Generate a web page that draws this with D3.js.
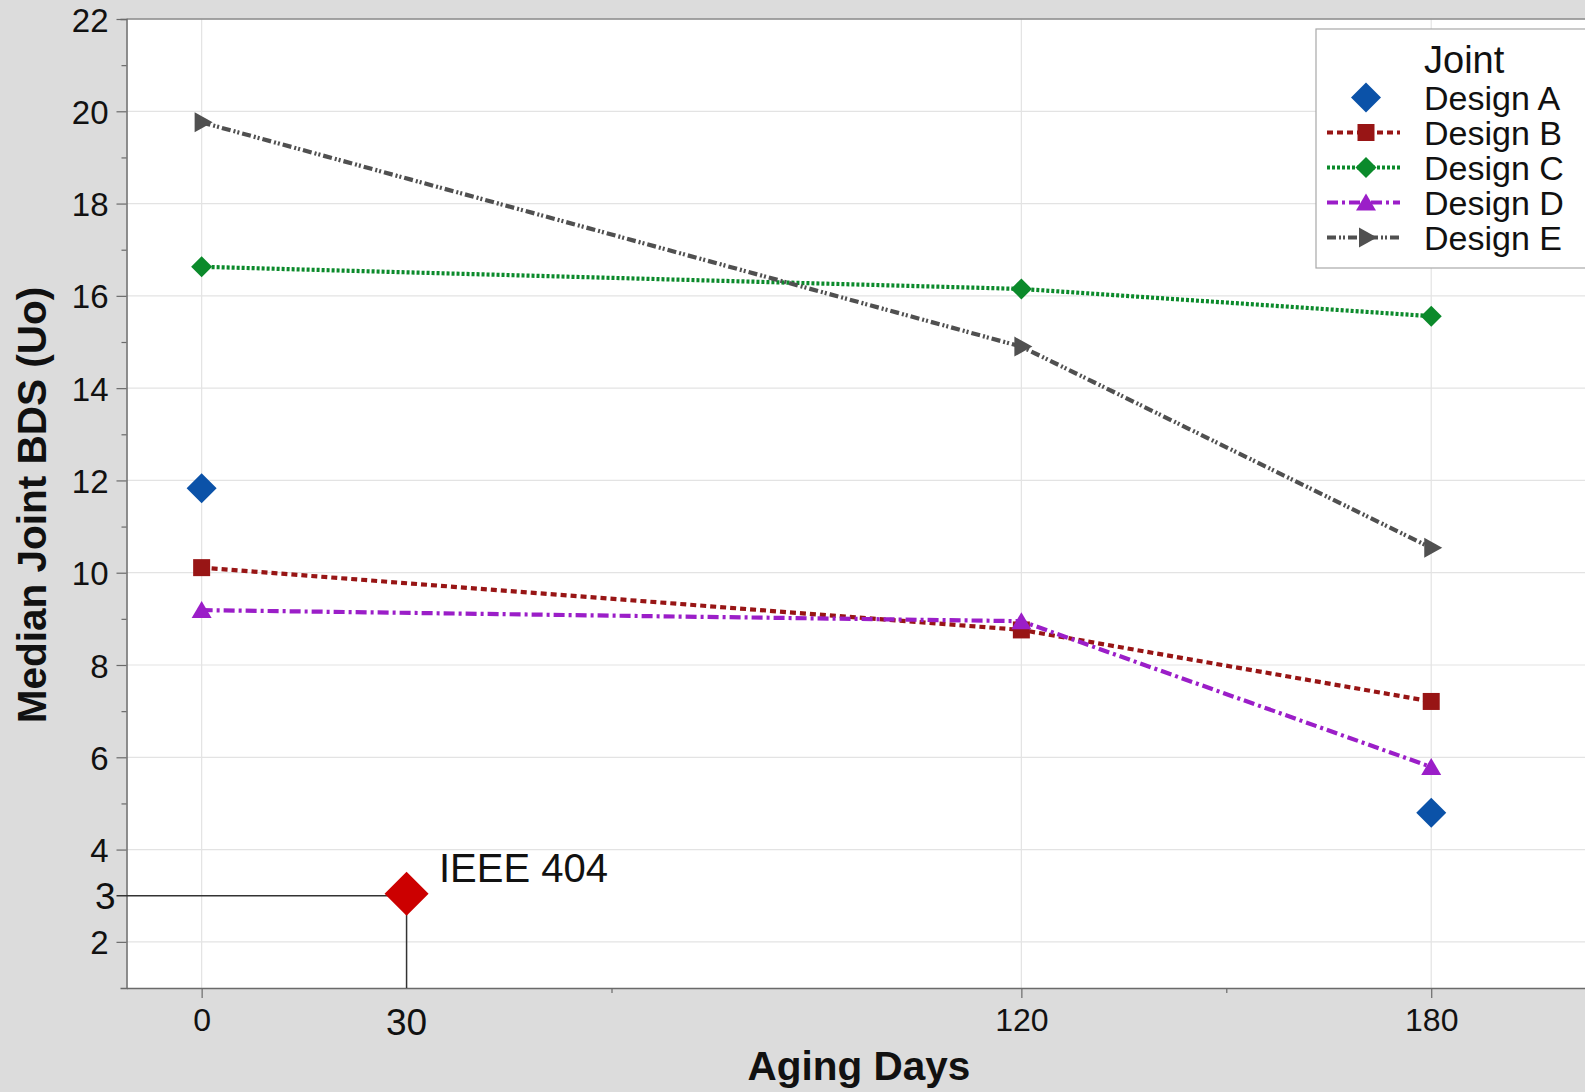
<!DOCTYPE html>
<html>
<head>
<meta charset="utf-8">
<script src="https://cdn.jsdelivr.net/npm/d3@7"></script>
<style>
  html, body { margin: 0; padding: 0; background: #dcdcdc; }
  svg { display: block; }
  text { font-family: "Liberation Sans", Arial, Helvetica, sans-serif; fill: #111; }
</style>
</head>
<body>
<svg id="chart" width="1585" height="1092"></svg>
<script>
// ---------- data ----------
const days = [0, 120, 180];
const designA = [11.83, null, 4.80];
const designB = [10.11, 8.76, 7.21];
const designC = [16.63, 16.15, 15.56];
const designD = [9.19, 8.95, 5.79];
const designE = [19.76, 14.90, 10.54];
const seriesNames = ["Design A", "Design B", "Design C", "Design D", "Design E"];
const yTickValues = [2, 4, 6, 8, 10, 12, 14, 16, 18, 20, 22];
const yMinorTicks = [5, 7, 9, 11, 13, 15, 17, 19, 21];
const xTickValues = [0, 120, 180];
const xMinorTicks = [60, 150];
const ieeeDay = 30;
const ieeeValue = 3;
const ieeeLabel = "IEEE 404";
const legendTitle = "Joint";
const xTitle = "Aging Days";
const yTitle = "Median Joint BDS (Uo)";

// ---------- styles ----------
const styles = {
  "Design A": { color: "#0b52a8", dash: null, shape: "diamond", size: 15 },
  "Design B": { color: "#981515", dash: "6,4", shape: "square", size: 17 },
  "Design C": { color: "#0b8a2b", dash: "3,2", shape: "diamond", size: 10.5 },
  "Design D": { color: "#9b1ec8", dash: "11,4,3,4", shape: "triUp", size: 20 },
  "Design E": { color: "#505050", dash: "9,3,2,2,2,3", shape: "triRight", size: 20 }
};
const seriesValues = [designA, designB, designC, designD, designE];
const LW = 4.2;

const svg = d3.select("#chart");
const W = 1585, H = 1092;
const plotLeft = 126.5, plotTop = 19, plotBottom = 988, plotRight = 1602;

const x = d3.scaleLinear().domain([-11, 205]).range([plotLeft, plotRight]);
const y = d3.scaleLinear().domain([1, 22]).range([plotBottom, plotTop]);

svg.append("rect").attr("width", W).attr("height", H).attr("fill", "#dcdcdc");
svg.append("rect").attr("x", plotLeft).attr("y", plotTop)
  .attr("width", plotRight - plotLeft).attr("height", plotBottom - plotTop).attr("fill", "#fff");

// gridlines
svg.append("g").selectAll("line").data(yTickValues).join("line")
  .attr("x1", plotLeft).attr("x2", plotRight)
  .attr("y1", d => y(d)).attr("y2", d => y(d))
  .attr("stroke", "#e3e3e3").attr("stroke-width", 1.2);
svg.append("g").selectAll("line").data(xTickValues).join("line")
  .attr("y1", plotTop).attr("y2", plotBottom)
  .attr("x1", d => x(d)).attr("x2", d => x(d))
  .attr("stroke", "#e3e3e3").attr("stroke-width", 1.2);

// top frame
svg.append("line").attr("x1", plotLeft).attr("x2", plotRight)
  .attr("y1", plotTop).attr("y2", plotTop).attr("stroke", "#8a8a8a").attr("stroke-width", 1.5);

// y axis
const yAxis = d3.axisLeft(y).tickValues(yTickValues).tickSize(10).tickSizeOuter(6).tickPadding(8).tickFormat(d3.format("d"));
const gy = svg.append("g").attr("transform", `translate(${plotLeft},0)`).call(yAxis);
gy.select(".domain").attr("stroke", "#6a6a6a").attr("stroke-width", 1.5);
gy.selectAll(".tick line").attr("stroke", "#6a6a6a").attr("stroke-width", 1.2);
gy.selectAll(".tick text").attr("font-size", 33).attr("dy", null)
  .attr("dominant-baseline", "auto").attr("y", 12).attr("fill", "#111")
  .style("font-family", '"Liberation Sans", Arial, sans-serif');
const yMinor = d3.axisLeft(y).tickValues(yMinorTicks).tickSize(5).tickFormat("");
const gym = svg.append("g").attr("transform", `translate(${plotLeft},0)`).call(yMinor);
gym.select(".domain").remove();
gym.selectAll(".tick line").attr("stroke", "#6a6a6a").attr("stroke-width", 1.2);

// x axis
const xAxis = d3.axisBottom(x).tickValues(xTickValues).tickSize(10).tickSizeOuter(0).tickPadding(10).tickFormat(d3.format("d"));
const gx = svg.append("g").attr("transform", `translate(0,${plotBottom})`).call(xAxis);
gx.select(".domain").attr("stroke", "#6a6a6a").attr("stroke-width", 1.5);
gx.selectAll(".tick line").attr("stroke", "#6a6a6a").attr("stroke-width", 1.2);
gx.selectAll(".tick text").attr("font-size", 32).attr("dy", null)
  .attr("y", 43).attr("fill", "#111")
  .style("font-family", '"Liberation Sans", Arial, sans-serif');
const xMinor = d3.axisBottom(x).tickValues(xMinorTicks).tickSize(5).tickSizeOuter(0).tickFormat("");
const gxm = svg.append("g").attr("transform", `translate(0,${plotBottom})`).call(xMinor);
gxm.select(".domain").remove();
gxm.selectAll(".tick line").attr("stroke", "#6a6a6a").attr("stroke-width", 1.2);

// axis titles
svg.append("text").attr("x", 859).attr("y", 1080).attr("text-anchor", "middle")
  .attr("font-size", 40.5).attr("font-weight", "bold").text(xTitle);
svg.append("text").attr("transform", "translate(46,505) rotate(-90)").attr("text-anchor", "middle")
  .attr("font-size", 40.5).attr("font-weight", "bold").text(yTitle);

// IEEE reference
svg.append("path")
  .attr("d", `M${plotLeft - 10},${y(ieeeValue)}H${x(ieeeDay)}V${plotBottom}`)
  .attr("fill", "none").attr("stroke", "#333").attr("stroke-width", 1.5);
svg.append("text").attr("x", plotLeft - 11).attr("y", y(ieeeValue) + 13).attr("text-anchor", "end")
  .attr("font-size", 37).text(String(ieeeValue));
svg.append("text").attr("x", x(ieeeDay)).attr("y", 1035).attr("text-anchor", "middle")
  .attr("font-size", 37).text(String(ieeeDay));

function shapePath(shape, s) {
  switch (shape) {
    case "diamond": return `M0,${-s}L${s},0L0,${s}L${-s},0Z`;
    case "square": { const h = s / 2; return `M${-h},${-h}H${h}V${h}H${-h}Z`; }
    case "triUp": { const h = s / 2; return `M0,${-h * 0.9}L${h},${h * 0.8}L${-h},${h * 0.8}Z`; }
    case "triRight": { const h = s / 2; return `M${-h * 0.7},${-h}L${h * 1.1},0L${-h * 0.7},${h}Z`; }
  }
}

svg.append("path").attr("transform", `translate(${x(ieeeDay)},${y(ieeeValue) - 2})`)
  .attr("d", shapePath("diamond", 22)).attr("fill", "#cc0000");
svg.append("text").attr("x", 439).attr("y", 882).attr("font-size", 40).text(ieeeLabel);

// series lines
const line = d3.line().defined(d => d.v != null).x(d => x(d.day)).y(d => y(d.v));
seriesNames.forEach((name, i) => {
  const st = styles[name];
  const pts = days.map((d, j) => ({ day: d, v: seriesValues[i][j] }));
  if (st.dash) {
    svg.append("path").datum(pts).attr("d", line).attr("fill", "none")
      .attr("stroke", st.color).attr("stroke-width", LW).attr("stroke-dasharray", st.dash);
  }
});
// markers
seriesNames.forEach((name, i) => {
  const st = styles[name];
  const pts = days.map((d, j) => ({ day: d, v: seriesValues[i][j] })).filter(p => p.v != null);
  svg.append("g").selectAll("path").data(pts).join("path")
    .attr("transform", p => `translate(${x(p.day)},${y(p.v)})`)
    .attr("d", shapePath(st.shape, st.size)).attr("fill", st.color);
});

// legend
const lg = svg.append("g");
lg.append("rect").attr("x", 1316).attr("y", 29).attr("width", 300).attr("height", 239)
  .attr("fill", "#fff").attr("stroke", "#a8a8a8").attr("stroke-width", 1.2);
lg.append("text").attr("x", 1424).attr("y", 73).attr("font-size", 38).text(legendTitle);
seriesNames.forEach((name, i) => {
  const st = styles[name];
  const cy = 97.5 + i * 35;
  if (st.dash) {
    lg.append("line").attr("x1", 1327).attr("x2", 1400).attr("y1", cy).attr("y2", cy)
      .attr("stroke", st.color).attr("stroke-width", LW).attr("stroke-dasharray", st.dash);
  }
  lg.append("path").attr("transform", `translate(1366,${cy})`)
    .attr("d", shapePath(st.shape, st.size)).attr("fill", st.color);
  lg.append("text").attr("x", 1424).attr("y", cy + 12.5).attr("font-size", 34).text(name);
});
</script>
</body>
</html>
